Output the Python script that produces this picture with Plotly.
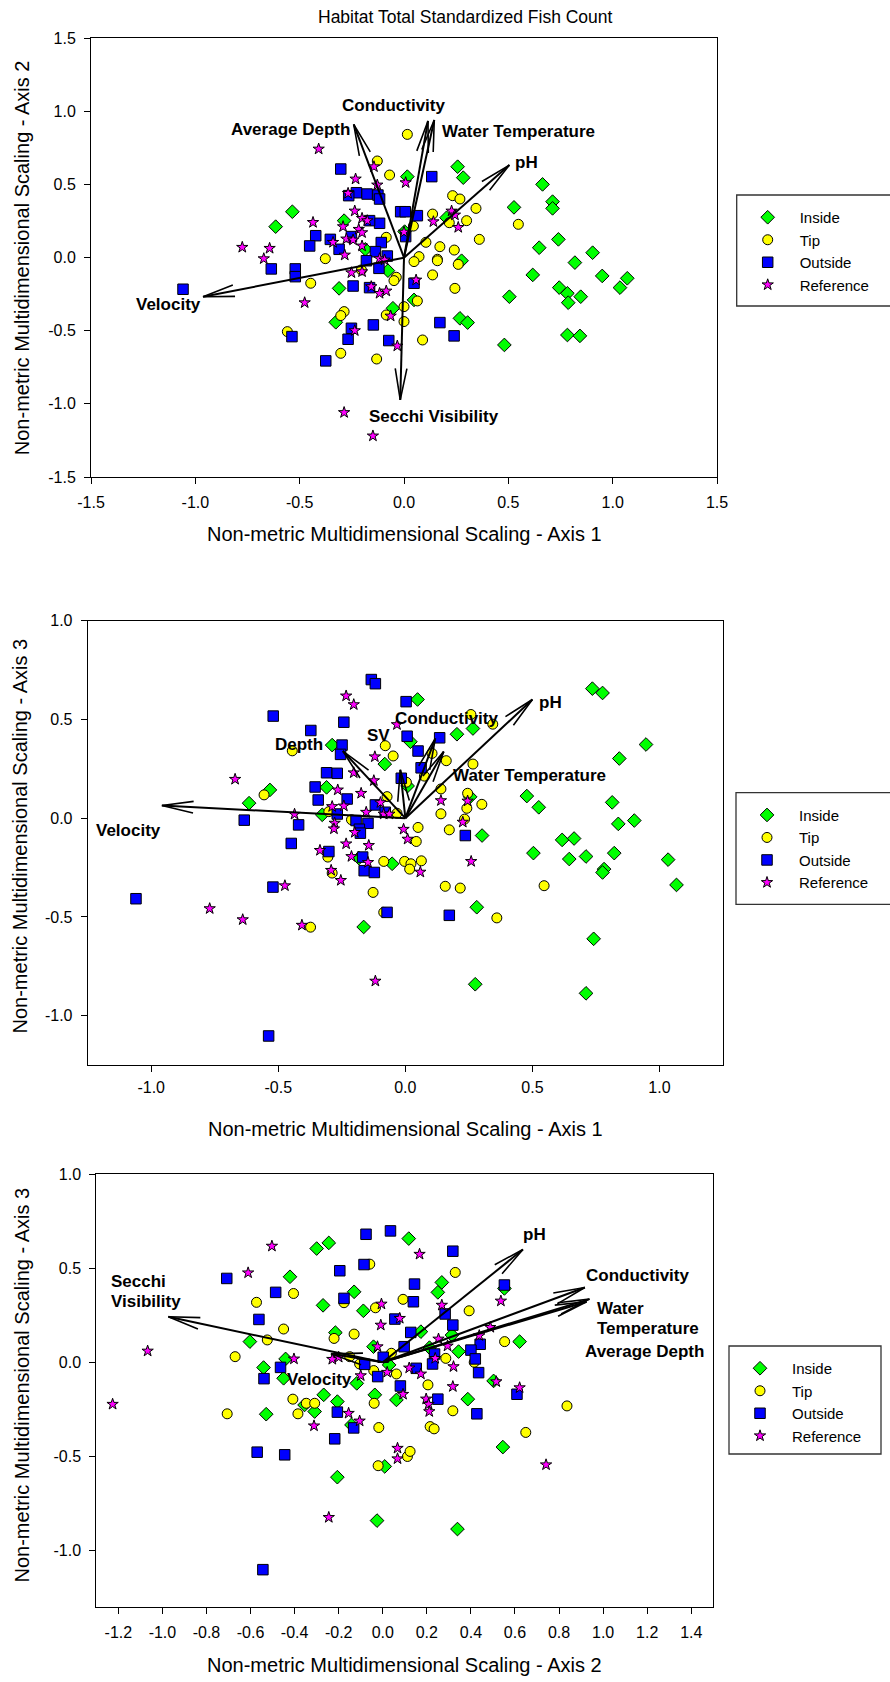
import math
import plotly.graph_objects as go

# ======================= DATA =======================
groups = ["Inside", "Tip", "Outside", "Reference"]

# ---- Panel 1 : Axis 1 (x) vs Axis 2 (y) ----
p1_inside = [(-0.535, 0.314), (-0.615, 0.212), (-0.287, 0.253), (-0.185, 0.057), (-0.077, -0.089),
             (-0.311, -0.210), (-0.053, -0.346), (-0.327, -0.442), (0.016, 0.554), (0.003, 0.178),
             (0.257, 0.622), (0.284, 0.547), (0.664, 0.501), (0.204, 0.273), (0.527, 0.344),
             (0.712, 0.383), (0.712, 0.337), (0.276, -0.021), (0.740, 0.125), (0.648, 0.068),
             (0.904, 0.034), (0.819, -0.034), (0.617, -0.118), (0.950, -0.125), (1.070, -0.141),
             (1.035, -0.205), (0.744, -0.205), (0.783, -0.244), (0.847, -0.267), (0.787, -0.308),
             (0.505, -0.267), (0.048, -0.289), (0.268, -0.415), (0.305, -0.444), (0.783, -0.529),
             (0.843, -0.535), (0.481, -0.597)]
p1_tip = [(0.016, 0.843), (-0.128, 0.661), (-0.069, 0.565), (-0.085, 0.139), (-0.377, -0.007),
          (-0.447, -0.175), (-0.037, -0.134), (-0.048, -0.157), (0.000, -0.335), (-0.085, -0.392),
          (0.000, -0.437), (-0.287, -0.369), (-0.303, -0.396), (-0.559, -0.506), (-0.303, -0.654),
          (-0.131, -0.693), (-0.204, -0.084), (0.233, 0.424), (0.268, 0.401), (0.345, 0.337),
          (0.137, 0.298), (0.217, 0.239), (0.300, 0.253), (0.045, 0.216), (0.548, 0.228),
          (0.361, 0.125), (0.105, 0.105), (0.172, 0.075), (0.241, 0.052), (0.072, 0.007),
          (0.048, -0.027), (0.160, -0.011), (0.160, -0.021), (0.260, -0.046), (0.137, -0.118),
          (0.244, -0.210), (0.064, -0.296), (0.089, -0.563)]
p1_outside = [(-0.303, 0.606), (-0.228, 0.444), (-0.177, 0.435), (-0.125, 0.428), (-0.117, 0.401),
              (-0.265, 0.424), (-0.016, 0.314), (0.006, 0.314), (-0.117, 0.235), (-0.165, 0.253),
              (-0.252, 0.144), (-0.423, 0.150), (-0.452, 0.080), (-0.353, 0.125), (-0.311, 0.057),
              (-0.109, 0.103), (-0.137, 0.041), (-0.080, 0.011), (-0.180, -0.021), (-0.120, -0.073),
              (-0.636, -0.077), (-0.521, -0.077), (-0.521, -0.130), (-1.059, -0.216), (-0.244, -0.194),
              (-0.165, -0.205), (-0.147, -0.460), (-0.252, -0.483), (-0.268, -0.558), (-0.073, -0.567),
              (-0.537, -0.540), (-0.375, -0.706), (0.008, 0.144), (0.133, 0.554), (0.064, 0.287),
              (0.048, -0.175), (0.172, -0.444), (0.240, -0.535)]
p1_reference = [(-0.409, 0.743), (-0.144, 0.622), (-0.232, 0.538), (-0.128, 0.497), (-0.268, 0.440),
                (0.008, 0.513), (-0.236, 0.319), (-0.436, 0.241), (-0.201, 0.269), (-0.176, 0.253),
                (-0.292, 0.212), (-0.217, 0.194), (-0.201, 0.171), (-0.340, 0.105), (-0.276, 0.128),
                (-0.244, 0.121), (-0.201, 0.080), (-0.284, 0.018), (-0.775, 0.071), (-0.644, 0.064),
                (-0.672, -0.007), (-0.117, -0.007), (-0.093, -0.016), (0.000, 0.175), (-0.252, -0.103),
                (-0.201, -0.096), (-0.157, -0.198), (-0.117, -0.244), (-0.085, -0.228), (-0.476, -0.308),
                (-0.064, -0.399), (-0.236, -0.499), (-0.032, -0.604), (-0.287, -1.059), (-0.149, -1.219),
                (0.141, 0.246), (0.228, 0.319), (0.244, 0.292), (0.260, 0.207), (0.058, -0.153)]
p1_vec_names = ["Velocity", "Average Depth", "Conductivity", "Water Temperature", "pH", "Secchi Visibility"]
p1_vec_tips = [(-0.963, -0.267), (-0.241, 0.911), (0.115, 0.935), (0.145, 0.941), (0.505, 0.633), (-0.018, -0.973)]

# ---- Panel 2 : Axis 1 (x) vs Axis 3 (y) ----
p2_inside = [(-0.288, 0.370), (-0.081, 0.274), (-0.310, 0.156), (-0.533, 0.143), (-0.615, 0.076),
             (-0.327, 0.017), (-0.052, -0.231), (-0.183, -0.202), (-0.164, -0.551), (0.048, 0.601),
             (0.020, 0.387), (0.203, 0.425), (0.266, 0.454), (0.009, 0.163), (0.255, 0.108),
             (0.736, 0.656), (0.776, 0.634), (0.947, 0.373), (0.842, 0.302), (0.478, 0.112),
             (0.525, 0.055), (0.814, 0.080), (0.838, -0.029), (0.901, -0.012), (0.302, -0.088),
             (0.617, -0.110), (0.664, -0.103), (0.504, -0.177), (0.645, -0.207), (0.711, -0.194),
             (0.822, -0.177), (0.782, -0.258), (0.776, -0.275), (1.034, -0.210), (1.067, -0.338),
             (0.281, -0.451), (0.741, -0.611), (0.275, -0.841), (0.711, -0.887)]
p2_tip = [(-0.079, 0.367), (-0.048, 0.315), (-0.445, 0.341), (-0.556, 0.118), (-0.072, 0.109),
          (-0.301, 0.033), (-0.033, 0.025), (-0.212, -0.008), (-0.085, -0.219), (-0.003, -0.219),
          (-0.305, -0.197), (-0.288, -0.278), (-0.127, -0.376), (-0.085, -0.477), (-0.373, -0.552),
          (0.258, 0.525), (0.344, 0.476), (0.105, 0.328), (0.161, 0.291), (0.266, 0.274),
          (0.075, 0.213), (0.140, 0.148), (0.245, 0.126), (0.301, 0.070), (0.242, 0.050),
          (0.140, 0.022), (0.233, -0.005), (0.173, -0.059), (0.050, -0.047), (0.043, -0.118),
          (0.022, -0.231), (0.017, -0.258), (0.063, -0.216), (0.157, -0.345), (0.216, -0.354),
          (0.546, -0.342), (0.360, -0.505), (0.004, 0.182)]
p2_outside = [(-0.134, 0.702), (-0.118, 0.681), (0.003, 0.590), (-0.520, 0.517), (-0.242, 0.486),
              (-0.372, 0.444), (0.007, 0.415), (-0.249, 0.370), (-0.255, 0.323), (-0.310, 0.230),
              (-0.268, 0.227), (-0.355, 0.158), (-0.343, 0.092), (-0.229, 0.097), (-0.118, 0.067),
              (-0.079, 0.030), (-0.268, 0.021), (-0.194, -0.012), (-0.147, -0.026), (-0.181, -0.056),
              (-0.177, -0.076), (-0.634, -0.010), (-0.420, -0.034), (-0.449, -0.128), (-0.301, -0.169),
              (-0.168, -0.197), (-0.162, -0.266), (-0.122, -0.275), (-0.521, -0.349), (-1.060, -0.408),
              (-0.072, -0.477), (-0.538, -1.103), (-0.016, 0.202), (0.135, 0.407), (0.050, 0.340),
              (0.062, 0.255), (0.236, -0.088), (0.173, -0.492)]
p2_reference = [(-0.233, 0.619), (-0.203, 0.575), (-0.033, 0.474), (-0.670, 0.197), (-0.120, 0.311),
                (-0.203, 0.230), (-0.124, 0.190), (-0.266, 0.143), (-0.174, 0.126), (-0.288, 0.059),
                (-0.242, 0.062), (-0.098, 0.079), (-0.154, 0.030), (-0.085, 0.021), (-0.063, 0.021),
                (-0.436, 0.020), (-0.278, -0.025), (-0.281, -0.054), (-0.199, -0.072), (-0.007, -0.056),
                (-0.233, -0.130), (-0.144, -0.138), (-0.336, -0.163), (-0.212, -0.194), (-0.147, -0.224),
                (-0.292, -0.264), (-0.254, -0.315), (-0.474, -0.342), (-0.770, -0.458), (-0.640, -0.514),
                (-0.407, -0.542), (-0.118, -0.825), (0.009, -0.106), (0.140, 0.089), (0.245, 0.087),
                (0.226, -0.020), (0.059, -0.273), (0.259, -0.219)]
p2_vec_names = ["Velocity", "Depth", "SV", "Conductivity", "Water Temperature", "pH"]
p2_vec_tips = [(-0.958, 0.064), (-0.246, 0.340), (-0.020, 0.245), (0.118, 0.404), (0.151, 0.337), (0.500, 0.601)]

# ---- Panel 3 : Axis 2 (x) vs Axis 3 (y) ----
p3_inside = [(-0.300, 0.605), (-0.245, 0.635), (0.118, 0.658), (-0.421, 0.455), (-0.130, 0.375),
             (-0.271, 0.303), (-0.088, 0.274), (-0.215, 0.158), (-0.603, 0.110), (-0.042, 0.083),
             (0.029, -0.014), (-0.441, 0.018), (-0.541, -0.028), (-0.450, -0.085), (-0.118, -0.112),
             (-0.268, -0.173), (-0.036, -0.173), (-0.206, -0.209), (-0.309, -0.262), (-0.355, -0.227),
             (-0.529, -0.276), (0.062, -0.200), (-0.142, -0.333), (0.009, -0.554), (-0.206, -0.611),
             (-0.026, -0.842), (0.268, 0.425), (0.250, 0.372), (0.552, 0.393), (0.173, 0.163),
             (0.314, 0.145), (0.344, 0.057), (0.621, 0.110), (0.212, 0.078), (0.503, -0.099),
             (0.386, -0.196), (0.545, -0.451), (0.339, -0.887)]
p3_tip = [(-0.059, 0.522), (-0.405, 0.366), (-0.573, 0.319), (-0.176, 0.317), (-0.033, 0.290),
          (0.092, 0.335), (-0.450, 0.177), (-0.221, 0.127), (-0.130, 0.150), (-0.524, 0.119),
          (-0.670, 0.030), (0.039, 0.048), (-0.150, 0.030), (-0.105, -0.009), (-0.041, -0.044),
          (0.062, -0.062), (-0.408, -0.196), (-0.347, -0.218), (-0.309, -0.218), (-0.706, -0.274),
          (-0.385, -0.274), (-0.039, -0.218), (-0.018, -0.347), (-0.021, -0.550), (0.112, -0.501),
          (0.329, 0.478), (0.392, 0.274), (0.553, 0.110), (0.286, 0.021), (0.415, 0.000),
          (0.205, -0.120), (0.318, -0.258), (0.215, -0.342), (0.233, -0.354), (0.836, -0.232),
          (0.649, -0.373), (0.124, -0.474)]
p3_outside = [(-0.076, 0.681), (0.035, 0.699), (-0.708, 0.446), (-0.195, 0.487), (-0.085, 0.520),
              (-0.176, 0.340), (-0.486, 0.372), (-0.562, 0.228), (0.055, 0.230), (0.097, 0.083),
              (0.002, 0.027), (-0.082, -0.011), (-0.023, -0.076), (-0.464, -0.027), (-0.539, -0.087),
              (0.080, -0.126), (-0.206, -0.265), (-0.132, -0.349), (-0.218, -0.407), (-0.570, -0.478),
              (-0.445, -0.492), (-0.544, -1.103), (0.318, 0.591), (0.144, 0.416), (0.139, 0.322),
              (0.283, 0.257), (0.318, 0.198), (0.552, 0.411), (0.127, 0.159), (0.442, 0.096),
              (0.400, 0.065), (0.420, 0.018), (0.235, 0.044), (0.226, -0.009), (0.152, -0.032),
              (0.435, -0.055), (0.250, -0.196), (0.427, -0.274), (0.609, -0.170)]
p3_reference = [(-0.503, 0.618), (-0.611, 0.476), (-0.006, 0.310), (0.077, 0.234), (-0.009, 0.198),
                (-0.024, 0.083), (-1.067, 0.060), (-0.403, 0.018), (-0.229, 0.016), (-0.200, 0.027),
                (-0.100, -0.071), (0.020, -0.053), (0.092, -0.170), (-1.226, -0.223), (-0.155, -0.271),
                (-0.105, -0.312), (-0.312, -0.338), (0.067, -0.457), (0.067, -0.513), (-0.245, -0.825),
                (0.120, -0.030), (0.167, 0.575), (0.268, 0.304), (0.536, 0.326), (0.488, 0.186),
                (0.438, 0.142), (0.253, 0.124), (0.294, 0.087), (0.238, 0.021), (0.321, -0.023),
                (0.173, -0.062), (0.318, -0.129), (0.515, -0.103), (0.621, -0.135), (0.197, -0.195),
                (0.208, -0.223), (0.211, -0.262), (0.741, -0.545)]
p3_vec_names = ["Secchi Visibility", "Velocity", "pH", "Conductivity", "Water Temperature", "Average Depth"]
p3_vec_tips = [(-0.973, 0.242), (-0.235, 0.045), (0.636, 0.600), (0.917, 0.398), (0.938, 0.336), (0.925, 0.322)]

# ---- axis ticks ----
p1_xticks = [-1.5, -1.0, -0.5, 0.0, 0.5, 1.0, 1.5]
p1_yticks = [-1.5, -1.0, -0.5, 0.0, 0.5, 1.0, 1.5]
p2_xticks = [-1.0, -0.5, 0.0, 0.5, 1.0]
p2_yticks = [-1.0, -0.5, 0.0, 0.5, 1.0]
p3_xticks = [-1.2, -1.0, -0.8, -0.6, -0.4, -0.2, 0.0, 0.2, 0.4, 0.6, 0.8, 1.0, 1.2, 1.4]
p3_yticks = [-1.0, -0.5, 0.0, 0.5, 1.0]

title_text = "Habitat Total Standardized Fish Count"
x_titles = ["Non-metric Multidimensional Scaling - Axis 1",
            "Non-metric Multidimensional Scaling - Axis 1",
            "Non-metric Multidimensional Scaling - Axis 2"]
y_titles = ["Non-metric Multidimensional Scaling - Axis 2",
            "Non-metric Multidimensional Scaling - Axis 3",
            "Non-metric Multidimensional Scaling - Axis 3"]

# ======================= LAYOUT / STYLE =======================
W, H = 890, 1682
FONT = "Liberation Sans, Arial, Helvetica, sans-serif"

# plot boxes in pixels (left, top, right, bottom) and axis ranges
boxes = [(91.0, 38.3, 717.0, 477.0), (87.7, 620.7, 723.0, 1065.0), (96.3, 1174.3, 713.3, 1606.7)]
xranges = [(-1.5, 1.5), (-1.25, 1.25), (-1.3, 1.5)]
yranges = [(-1.5, 1.5), (-1.25, 1.0), (-1.3, 1.0)]
x_label_standoff = [5, 2, 5]

styles = {
    "Inside": dict(symbol="diamond", color="#00FF00", size=10.5),
    "Tip": dict(symbol="circle", color="#FFFF00", size=10),
    "Outside": dict(symbol="square", color="#0000FF", size=10.5),
    "Reference": dict(symbol="star", color="#FF00FF", size=8.5),
}

panels = [
    dict(pts=[p1_inside, p1_tip, p1_outside, p1_reference], names=p1_vec_names, tips=p1_vec_tips,
         xt=p1_xticks, yt=p1_yticks),
    dict(pts=[p2_inside, p2_tip, p2_outside, p2_reference], names=p2_vec_names, tips=p2_vec_tips,
         xt=p2_xticks, yt=p2_yticks),
    dict(pts=[p3_inside, p3_tip, p3_outside, p3_reference], names=p3_vec_names, tips=p3_vec_tips,
         xt=p3_xticks, yt=p3_yticks),
]


def scales(i):
    l, t, r, b = boxes[i]
    sx = (r - l) / (xranges[i][1] - xranges[i][0])
    sy = (b - t) / (yranges[i][1] - yranges[i][0])
    return sx, sy


def arrow_paths(tips, sx, sy, head_len=32.0, half_angle=math.radians(10.5)):
    shaft_x, shaft_y, head_x, head_y = [], [], [], []
    for tx, ty in tips:
        shaft_x += [0.0, tx, None]
        shaft_y += [0.0, ty, None]
        px, py = tx * sx, ty * sy
        n = math.hypot(px, py)
        ux, uy = px / n, py / n
        ends = []
        for a in (half_angle, -half_angle):
            bx = ux * math.cos(a) - uy * math.sin(a)
            by = ux * math.sin(a) + uy * math.cos(a)
            ends.append((tx - head_len * bx / sx, ty - head_len * by / sy))
        head_x += [ends[0][0], tx, ends[1][0], None]
        head_y += [ends[0][1], ty, ends[1][1], None]
    return shaft_x, shaft_y, head_x, head_y


fig = go.Figure()
legend_ids = ["legend", "legend2", "legend3"]

for i, p in enumerate(panels):
    xa = "x" if i == 0 else f"x{i + 1}"
    ya = "y" if i == 0 else f"y{i + 1}"
    for g, pts in zip(groups, p["pts"]):
        st = styles[g]
        fig.add_trace(go.Scatter(
            x=[q[0] for q in pts], y=[q[1] for q in pts], mode="markers", name=g,
            xaxis=xa, yaxis=ya, legend=legend_ids[i],
            marker=dict(symbol=st["symbol"], color=st["color"], size=st["size"],
                        line=dict(color="black", width=1)),
            hoverinfo="skip"))
    sx, sy = scales(i)
    shx, shy, hx, hy = arrow_paths(p["tips"], sx, sy)
    fig.add_trace(go.Scatter(x=shx, y=shy, mode="lines", xaxis=xa, yaxis=ya, showlegend=False,
                             line=dict(color="black", width=2), hoverinfo="skip"))
    fig.add_trace(go.Scatter(x=hx, y=hy, mode="lines", xaxis=xa, yaxis=ya, showlegend=False,
                             line=dict(color="black", width=1.6), hoverinfo="skip"))

layout = dict(
    width=W, height=H, margin=dict(l=0, r=0, t=0, b=0),
    paper_bgcolor="white", plot_bgcolor="white",
    font=dict(family=FONT, size=16, color="black"),
    showlegend=True,
)

for i, p in enumerate(panels):
    l, t, r, b = boxes[i]
    xk = "xaxis" if i == 0 else f"xaxis{i + 1}"
    yk = "yaxis" if i == 0 else f"yaxis{i + 1}"
    xa = "x" if i == 0 else f"x{i + 1}"
    ya = "y" if i == 0 else f"y{i + 1}"
    common = dict(showgrid=False, zeroline=False, showline=True, linecolor="black", linewidth=1,
                  mirror=True, ticks="outside", ticklen=6, tickwidth=1, tickcolor="black",
                  tickfont=dict(family=FONT, size=16, color="black"), automargin=False,
                  fixedrange=True)
    layout[xk] = dict(common, domain=[l / W, r / W], range=list(xranges[i]), anchor=ya,
                      ticklabelstandoff=x_label_standoff[i],
                      tickvals=p["xt"], ticktext=[f"{v:.1f}" for v in p["xt"]])
    layout[yk] = dict(common, domain=[1 - b / H, 1 - t / H], range=list(yranges[i]), anchor=xa,
                      ticklabelstandoff=5,
                      tickvals=p["yt"], ticktext=[f"{v:.1f}" for v in p["yt"]])

# legends (boxes drawn as shapes)
legend_boxes = [(736.7, 195.0, 893.0, 306.0), (736.0, 792.7, 893.0, 904.3), (729.0, 1346.0, 881.0, 1454.0)]
shapes = []
for i, (l, t, r, b) in enumerate(legend_boxes):
    shapes.append(dict(type="rect", xref="paper", yref="paper", x0=l / W, x1=r / W,
                       y0=1 - b / H, y1=1 - t / H, line=dict(color="#333333", width=1.3)))
    layout[legend_ids[i]] = dict(x=(l - 1) / W, y=1 - (t + 6) / H, xanchor="left", yanchor="top",
                                 bgcolor="rgba(0,0,0,0)", borderwidth=0, itemwidth=54,
                                 font=dict(family=FONT, size=15, color="black"),
                                 traceorder="normal", itemclick=False, itemdoubleclick=False)
layout["shapes"] = shapes

annotations = []


def txt(s, x, y, xref, yref, size=17, bold=True, xanchor="center", yanchor="middle", angle=0):
    annotations.append(dict(text=f"<b>{s}</b>" if bold else s, x=x, y=y, xref=xref, yref=yref,
                            showarrow=False, xanchor=xanchor, yanchor=yanchor, textangle=angle,
                            font=dict(family=FONT, size=size, color="black")))


# vector labels (panel 1)
txt("Conductivity", -0.050, 1.038, "x", "y")
txt("Average Depth", -0.543, 0.873, "x", "y")
txt("Water Temperature", 0.551, 0.862, "x", "y")
txt("pH", 0.585, 0.650, "x", "y")
txt("Velocity", -1.131, -0.319, "x", "y")
txt("Secchi Visibility", 0.146, -1.083, "x", "y")
# panel 2
txt("Velocity", -1.090, -0.064, "x2", "y2")
txt("Depth", -0.420, 0.371, "x2", "y2")
txt("SV", -0.107, 0.417, "x2", "y2")
txt("Conductivity", 0.160, 0.506, "x2", "y2")
txt("Water Temperature", 0.487, 0.214, "x2", "y2")
txt("pH", 0.570, 0.585, "x2", "y2")
# panel 3
txt("Secchi", -1.243, 0.429, "x3", "y3", xanchor="left")
txt("Visibility", -1.243, 0.322, "x3", "y3", xanchor="left")
txt("Velocity", -0.285, -0.094, "x3", "y3")
txt("pH", 0.689, 0.681, "x3", "y3")
txt("Conductivity", 1.155, 0.464, "x3", "y3")
txt("Water", 0.963, 0.287, "x3", "y3", xanchor="left")
txt("Temperature", 0.963, 0.181, "x3", "y3", xanchor="left")
txt("Average Depth", 1.190, 0.060, "x3", "y3")

# titles
txt(title_text, 465 / W, 1 - 17 / H, "paper", "paper", size=17.5, bold=False)
xt_y = [534, 1129, 1665]
yt_x = [21.7, 19.5, 21.5]
yt_y = [257.5, 836, 1385]
for i in range(3):
    l, t, r, b = boxes[i]
    txt(x_titles[i], (l + r) / 2 / W, 1 - xt_y[i] / H, "paper", "paper", size=20, bold=False)
    txt(y_titles[i], yt_x[i] / W, 1 - yt_y[i] / H, "paper", "paper", size=20, bold=False, angle=-90)

layout["annotations"] = annotations
fig.update_layout(**layout)
fig.write_html("out.html")
